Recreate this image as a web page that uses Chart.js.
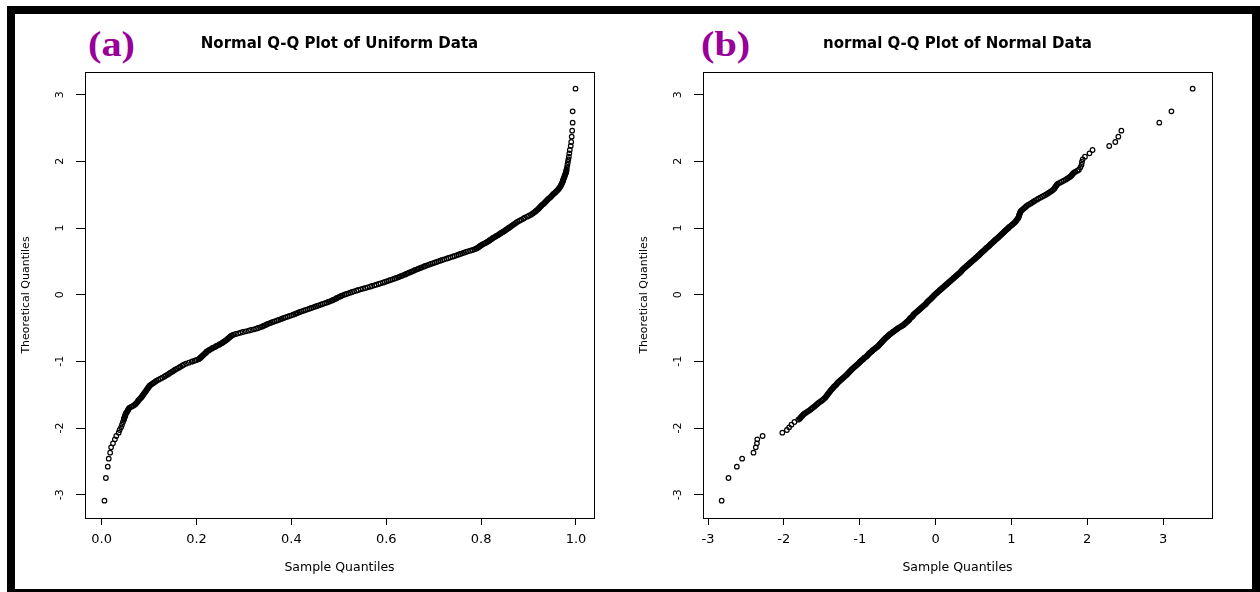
<!DOCTYPE html>
<html><head><meta charset="utf-8">
<script src="https://cdn.jsdelivr.net/npm/chart.js@4.4.1/dist/chart.umd.min.js"></script>
<style>
html,body{margin:0;padding:0;background:#fff;width:1260px;height:592px;overflow:hidden;position:relative}
#frame{position:absolute;left:7px;top:6px;width:1237px;height:575px;border:8px solid #000;box-sizing:content-box}
.panel-tag{position:absolute;top:26px;font:bold 36px "Liberation Serif","Times New Roman",serif;color:#990099;line-height:36px;transform:scaleX(1.12);transform-origin:0 0;white-space:nowrap}
canvas{position:absolute;top:15px}
</style></head>
<body>
<div id="frame"></div>
<div class="panel-tag" style="left:88px">(a)</div>
<div class="panel-tag" style="left:701px">(b)</div>
<canvas id="qqA" width="620" height="574" style="left:15px"></canvas>
<canvas id="qqB" width="620" height="574" style="left:633px"></canvas>
<script>
// Theoretical quantiles (y axis), shared by both panels
const theoreticalQuantiles = [
 -3.09,-2.75,-2.58,-2.46,-2.37,-2.29,-2.23,-2.17,-2.12,-2.07,-2.03,-1.99,-1.95,-1.91,
 -1.875,-1.86,-1.845,-1.83,-1.815,-1.8,-1.785,-1.77,-1.755,-1.74,
 -1.725,-1.71,-1.695,-1.68,-1.665,-1.65,-1.635,-1.62,-1.605,-1.59,
 -1.575,-1.56,-1.545,-1.53,-1.515,-1.5,-1.485,-1.47,-1.455,-1.44,
 -1.425,-1.41,-1.395,-1.38,-1.365,-1.35,-1.335,-1.32,-1.305,-1.29,
 -1.275,-1.26,-1.245,-1.23,-1.215,-1.2,-1.185,-1.17,-1.155,-1.14,
 -1.125,-1.11,-1.095,-1.08,-1.065,-1.05,-1.035,-1.02,-1.005,
 -1,-0.99,-0.98,-0.97,-0.96,-0.95,-0.94,-0.93,-0.92,-0.91,
 -0.9,-0.89,-0.88,-0.87,-0.86,-0.85,-0.84,-0.83,-0.82,-0.81,
 -0.8,-0.79,-0.78,-0.77,-0.76,-0.75,-0.74,-0.73,-0.72,-0.71,
 -0.7,-0.69,-0.68,-0.67,-0.66,-0.65,-0.64,-0.63,-0.62,-0.61,
 -0.6,-0.59,-0.58,-0.57,-0.56,-0.55,-0.54,-0.53,-0.52,-0.51,
 -0.5,-0.49,-0.48,-0.47,-0.46,-0.45,-0.44,-0.43,-0.42,-0.41,
 -0.4,-0.39,-0.38,-0.37,-0.36,-0.35,-0.34,-0.33,-0.32,-0.31,
 -0.3,-0.29,-0.28,-0.27,-0.26,-0.25,-0.24,-0.23,-0.22,-0.21,
 -0.2,-0.19,-0.18,-0.17,-0.16,-0.15,-0.14,-0.13,-0.12,-0.11,
 -0.1,-0.09,-0.08,-0.07,-0.06,-0.05,-0.04,-0.03,-0.02,-0.01,
 0,0.01,0.02,0.03,0.04,0.05,0.06,0.07,0.08,0.09,
 0.1,0.11,0.12,0.13,0.14,0.15,0.16,0.17,0.18,0.19,
 0.2,0.21,0.22,0.23,0.24,0.25,0.26,0.27,0.28,0.29,
 0.3,0.31,0.32,0.33,0.34,0.35,0.36,0.37,0.38,0.39,
 0.4,0.41,0.42,0.43,0.44,0.45,0.46,0.47,0.48,0.49,
 0.5,0.51,0.52,0.53,0.54,0.55,0.56,0.57,0.58,0.59,
 0.6,0.61,0.62,0.63,0.64,0.65,0.66,0.67,0.68,0.69,
 0.7,0.71,0.72,0.73,0.74,0.75,0.76,0.77,0.78,0.79,
 0.8,0.81,0.82,0.83,0.84,0.85,0.86,0.87,0.88,0.89,
 0.9,0.91,0.92,0.93,0.94,0.95,0.96,0.97,0.98,0.99,
 1,
 1.005,1.02,1.035,1.05,1.065,1.08,1.095,1.11,1.125,1.14,
 1.155,1.17,1.185,1.2,1.215,1.23,1.245,1.26,1.275,1.29,
 1.305,1.32,1.335,1.35,1.365,1.38,1.395,1.41,1.425,1.44,
 1.455,1.47,1.485,1.5,1.515,1.53,1.545,1.56,1.575,1.59,
 1.605,1.62,1.635,1.65,1.665,1.68,1.695,1.71,1.725,1.74,
 1.755,1.77,1.785,1.8,1.815,1.83,1.845,1.86,1.875,
 1.91,1.95,1.99,2.03,2.07,2.12,2.17,2.23,2.29,2.37,2.46,2.58,2.75,3.09
];
// Sample quantiles of the uniform data (x axis, panel a)
const uniformSampleQuantiles = [
 0.006,0.009,0.013,0.015,0.018,0.020,0.024,0.028,0.031,0.036,0.038,0.041,0.043,0.045,
 0.047,0.047,0.048,0.049,0.050,0.050,0.051,0.052,0.054,0.055,
 0.056,0.057,0.059,0.063,0.067,0.070,0.072,0.074,0.076,0.077,
 0.079,0.081,0.083,0.085,0.086,0.088,0.089,0.091,0.092,0.094,
 0.095,0.097,0.098,0.100,0.101,0.104,0.107,0.110,0.113,0.116,
 0.120,0.124,0.128,0.132,0.135,0.139,0.142,0.145,0.149,0.152,
 0.155,0.159,0.163,0.166,0.170,0.173,0.178,0.184,0.190,
 0.192,0.196,0.200,0.204,0.206,0.208,0.209,0.211,0.212,0.214,
 0.215,0.217,0.218,0.220,0.221,0.222,0.225,0.227,0.229,0.232,
 0.234,0.237,0.240,0.242,0.245,0.248,0.250,0.253,0.255,0.257,
 0.259,0.261,0.263,0.265,0.266,0.268,0.270,0.271,0.273,0.275,
 0.278,0.283,0.288,0.293,0.298,0.304,0.310,0.315,0.321,0.326,
 0.330,0.334,0.338,0.341,0.344,0.347,0.350,0.354,0.357,0.361,
 0.365,0.369,0.373,0.377,0.380,0.384,0.388,0.392,0.396,0.400,
 0.404,0.408,0.411,0.414,0.418,0.422,0.426,0.430,0.434,0.438,
 0.442,0.446,0.450,0.454,0.458,0.462,0.466,0.470,0.474,0.478,
 0.481,0.485,0.488,0.491,0.494,0.496,0.499,0.502,0.505,0.508,
 0.512,0.516,0.520,0.524,0.528,0.532,0.537,0.541,0.546,0.551,
 0.556,0.561,0.566,0.570,0.575,0.579,0.584,0.588,0.593,0.597,
 0.601,0.605,0.609,0.613,0.617,0.621,0.625,0.628,0.632,0.635,
 0.639,0.642,0.645,0.648,0.652,0.655,0.658,0.661,0.665,0.668,
 0.672,0.675,0.679,0.682,0.686,0.690,0.694,0.698,0.702,0.706,
 0.710,0.714,0.718,0.722,0.727,0.731,0.735,0.740,0.744,0.748,
 0.752,0.756,0.760,0.764,0.768,0.772,0.777,0.782,0.786,0.789,
 0.792,0.794,0.796,0.798,0.800,0.802,0.805,0.808,0.810,0.813,
 0.815,0.817,0.819,0.821,0.823,0.825,0.827,0.830,0.832,0.835,
 0.837,0.839,0.841,0.843,0.846,0.848,0.850,0.852,0.854,0.856,
 0.858,
 0.859,0.862,0.865,0.868,0.871,0.874,0.877,0.881,0.885,0.889,
 0.892,0.897,0.901,0.905,0.908,0.911,0.914,0.916,0.919,0.921,
 0.923,0.925,0.927,0.929,0.932,0.934,0.936,0.938,0.940,0.942,
 0.945,0.947,0.949,0.951,0.953,0.956,0.958,0.960,0.962,0.964,
 0.965,0.967,0.968,0.969,0.970,0.971,0.972,0.973,0.973,0.974,
 0.975,0.976,0.976,0.977,0.978,0.979,0.979,0.980,0.980,
 0.981,0.982,0.983,0.984,0.985,0.986,0.987,0.989,0.990,0.991,0.992,0.993,0.993,0.999
];
// Sample quantiles of the normal data (x axis, panel b)
const normalSampleQuantiles = [
 -2.82,-2.73,-2.62,-2.55,-2.40,-2.37,-2.355,-2.35,-2.28,-2.02,-1.96,-1.93,-1.90,-1.86,
 -1.81,-1.79,-1.78,-1.77,-1.755,-1.745,-1.73,-1.71,-1.69,-1.67,
 -1.65,-1.635,-1.62,-1.60,-1.585,-1.57,-1.555,-1.54,-1.52,-1.50,
 -1.485,-1.47,-1.455,-1.445,-1.435,-1.425,-1.415,-1.405,-1.395,-1.385,
 -1.375,-1.36,-1.35,-1.34,-1.325,-1.31,-1.30,-1.29,-1.275,-1.26,
 -1.245,-1.23,-1.215,-1.20,-1.185,-1.17,-1.16,-1.145,-1.135,-1.12,
 -1.11,-1.095,-1.08,-1.065,-1.05,-1.035,-1.02,-1.005,-0.995,
 -0.99,-0.98,-0.97,-0.955,-0.95,-0.94,-0.93,-0.915,-0.905,-0.897,
 -0.89,-0.882,-0.874,-0.865,-0.852,-0.84,-0.832,-0.825,-0.813,-0.80,
 -0.79,-0.778,-0.766,-0.756,-0.748,-0.74,-0.732,-0.724,-0.716,-0.708,
 -0.70,-0.692,-0.684,-0.676,-0.667,-0.66,-0.648,-0.636,-0.627,-0.618,
 -0.61,-0.598,-0.586,-0.574,-0.562,-0.55,-0.538,-0.526,-0.514,-0.502,
 -0.49,-0.475,-0.46,-0.445,-0.43,-0.42,-0.41,-0.40,-0.39,-0.38,
 -0.37,-0.36,-0.35,-0.345,-0.34,-0.33,-0.32,-0.31,-0.30,-0.295,
 -0.29,-0.28,-0.27,-0.26,-0.25,-0.24,-0.23,-0.22,-0.21,-0.20,
 -0.19,-0.18,-0.17,-0.16,-0.15,-0.14,-0.13,-0.122,-0.115,-0.108,
 -0.10,-0.09,-0.08,-0.07,-0.06,-0.052,-0.045,-0.035,-0.025,-0.018,
 -0.01,0.00,0.01,0.02,0.03,0.04,0.05,0.06,0.07,0.08,
 0.09,0.10,0.11,0.12,0.13,0.14,0.15,0.16,0.17,0.18,
 0.19,0.20,0.21,0.22,0.23,0.24,0.25,0.26,0.27,0.28,
 0.29,0.30,0.31,0.32,0.33,0.337,0.345,0.352,0.36,0.37,
 0.38,0.39,0.40,0.41,0.42,0.43,0.44,0.45,0.46,0.47,
 0.48,0.49,0.50,0.51,0.52,0.53,0.54,0.55,0.56,0.57,
 0.58,0.588,0.596,0.605,0.615,0.625,0.635,0.645,0.655,0.663,
 0.67,0.682,0.694,0.705,0.712,0.72,0.73,0.74,0.75,0.76,
 0.77,0.778,0.786,0.796,0.808,0.82,0.828,0.836,0.846,0.856,
 0.865,0.875,0.885,0.894,0.902,0.91,0.92,0.93,0.94,0.95,
 0.96,
 0.965,0.975,0.995,1.01,1.025,1.04,1.055,1.063,1.073,1.082,
 1.092,1.097,1.10,1.105,1.11,1.115,1.12,1.13,1.145,1.16,
 1.175,1.19,1.205,1.225,1.25,1.27,1.29,1.31,1.335,1.355,
 1.38,1.405,1.43,1.455,1.475,1.495,1.515,1.535,1.55,1.565,
 1.573,1.582,1.592,1.60,1.615,1.64,1.665,1.69,1.715,1.735,
 1.755,1.775,1.79,1.80,1.81,1.825,1.845,1.87,1.89,
 1.91,1.925,1.93,1.94,1.97,2.03,2.07,2.29,2.37,2.41,2.45,2.95,3.11,3.39
];
const yTicks = [-3,-2,-1,0,1,2,3];
const yTickLabels = ['-3','-2','-1','0','1','2','3'];
const xTicksA = [0,0.2,0.4,0.6,0.8,1.0];
const xTickLabelsA = ['0.0','0.2','0.4','0.6','0.8','1.0'];
const xTicksB = [-3,-2,-1,0,1,2,3];
const xTickLabelsB = ['-3','-2','-1','0','1','2','3'];
const titleA = 'Normal Q-Q Plot of Uniform Data';
const titleB = 'normal Q-Q Plot of Normal Data';
const xAxisTitle = 'Sample Quantiles';
const yAxisTitle = 'Theoretical Quantiles';

const plotBox = {
  id: 'plotBox',
  afterDatasetsDraw(chart) {
    const {ctx, chartArea: a} = chart;
    ctx.save();
    ctx.strokeStyle = '#000';
    ctx.lineWidth = 1;
    ctx.strokeRect(Math.round(a.left) + 0.5, Math.round(a.top) + 0.5,
      Math.round(a.right - a.left), Math.round(a.bottom - a.top));
    ctx.restore();
  }
};

function makeChart(id, xs, xMin, xMax, xTicks, xLabels, title) {
  const n = Math.min(xs.length, theoreticalQuantiles.length);
  const pts = [];
  for (let i = 0; i < n; i++) pts.push({x: xs[i], y: theoreticalQuantiles[i]});
  return new Chart(document.getElementById(id), {
    type: 'scatter',
    data: {datasets: [{
      data: pts,
      pointStyle: 'circle',
      pointRadius: 2.3,
      pointBorderWidth: 1.2,
      pointBorderColor: '#000',
      pointBackgroundColor: 'rgba(0,0,0,0)',
      showLine: false
    }]},
    options: {
      responsive: false,
      animation: false,
      devicePixelRatio: 1,
      events: [],
      layout: {padding: {left: 0, right: 41, top: 0, bottom: 0}},
      plugins: {
        legend: {display: false},
        tooltip: {enabled: false},
        title: {
          display: true, text: title, fullSize: false, color: '#000',
          font: {family: 'DejaVu Sans', size: 15, weight: 'bold', lineHeight: 1.2},
          padding: {top: 20, bottom: 19}
        }
      },
      scales: {
        x: {
          type: 'linear', position: 'bottom', min: xMin, max: xMax,
          afterBuildTicks: s => { s.ticks = xTicks.map(v => ({value: v})); },
          afterFit: s => { s.height = 71; },
          ticks: {
            callback: (v, i) => xLabels[i], minRotation: 0, maxRotation: 0,
            autoSkip: false, padding: 7, color: '#000',
            font: {family: 'DejaVu Sans', size: 13}
          },
          grid: {drawOnChartArea: false, drawTicks: true, tickLength: 7, color: '#000', lineWidth: 1},
          border: {display: true, color: '#000', width: 1},
          title: {
            display: true, text: xAxisTitle, color: '#000',
            font: {family: 'DejaVu Sans', size: 12.5},
            padding: {top: 0, bottom: 14}
          }
        },
        y: {
          type: 'linear', min: -3.35, max: 3.34,
          afterBuildTicks: s => { s.ticks = yTicks.map(v => ({value: v})); },
          afterFit: s => { s.width = 70; },
          ticks: {
            callback: (v, i) => yTickLabels[i], minRotation: 90, maxRotation: 90,
            crossAlign: 'center', autoSkip: false, padding: 10, color: '#000',
            font: {family: 'DejaVu Sans', size: 11}
          },
          grid: {drawOnChartArea: false, drawTicks: true, tickLength: 9, color: '#000', lineWidth: 1},
          border: {display: true, color: '#000', width: 1},
          title: {
            display: true, text: yAxisTitle, color: '#000',
            font: {family: 'DejaVu Sans', size: 11},
            padding: {top: 5, bottom: 0}
          }
        }
      }
    },
    plugins: [plotBox]
  });
}

makeChart('qqA', uniformSampleQuantiles, -0.035, 1.038, xTicksA, xTickLabelsA, titleA);
makeChart('qqB', normalSampleQuantiles, -3.066, 3.645, xTicksB, xTickLabelsB, titleB);
</script>
</body></html>
